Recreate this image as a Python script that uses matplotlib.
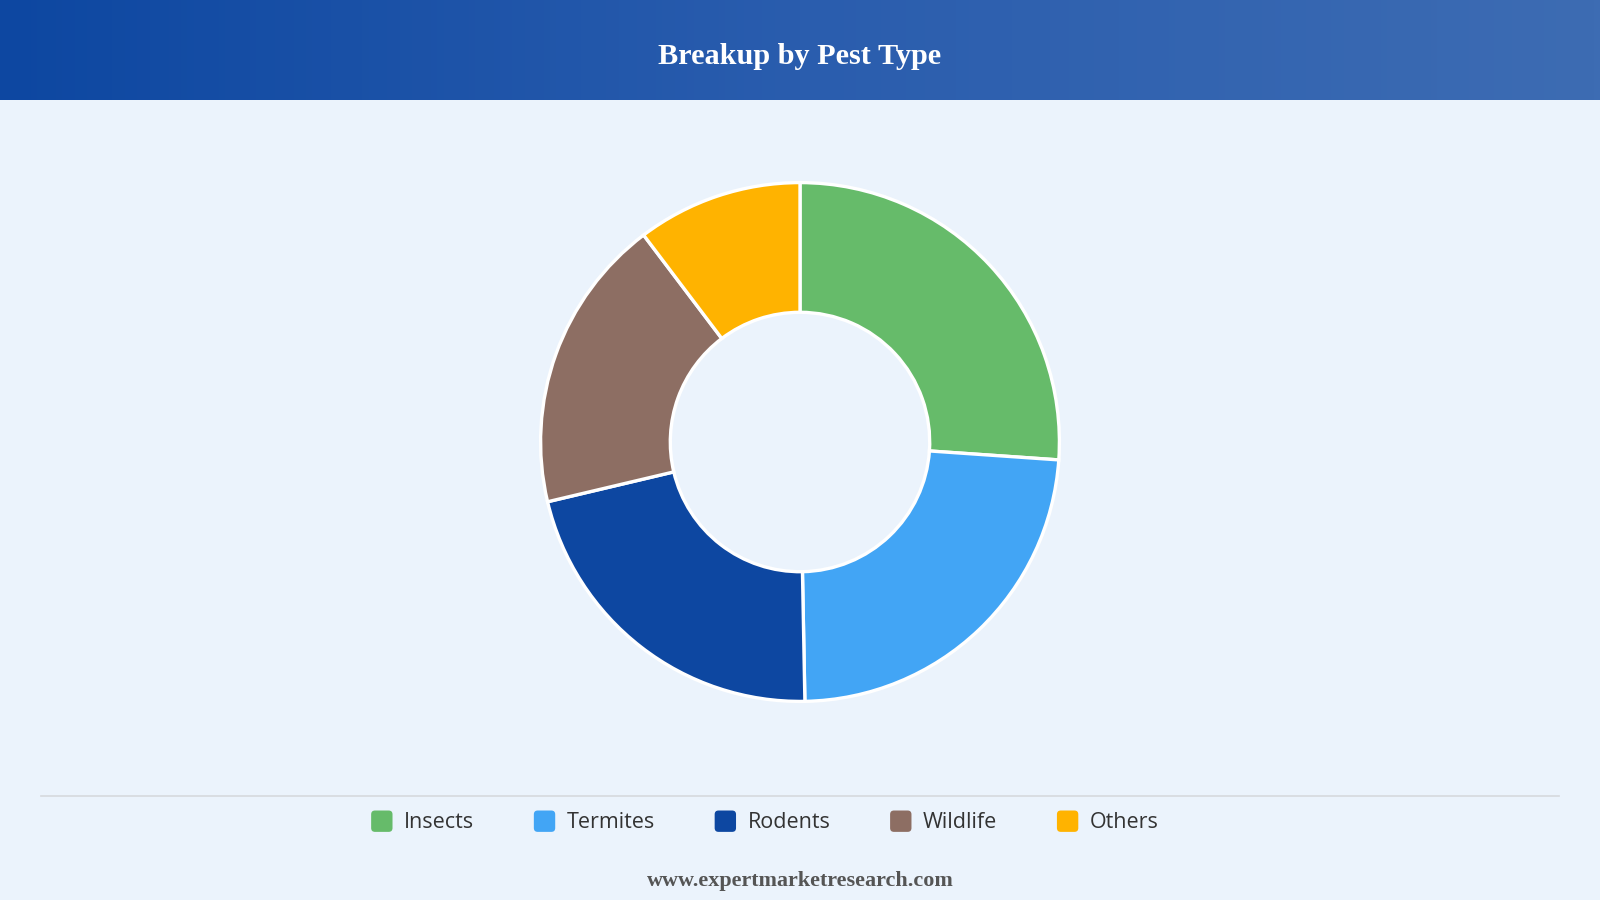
import matplotlib
matplotlib.use("Agg")
import matplotlib.pyplot as plt
import numpy as np
from matplotlib.colors import LinearSegmentedColormap
from matplotlib.patches import Patch, FancyBboxPatch
from matplotlib.legend_handler import HandlerPatch

# data
categories = ["Insects", "Termites", "Rodents", "Wildlife", "Others"]
shares = [26.1, 23.6, 21.6, 18.4, 10.3]
colors = ["#66BB6A", "#42A5F5", "#0D47A1", "#8D6E63", "#FFB300"]
title = "Breakup by Pest Type"
footer = "www.expertmarketresearch.com"

W, H = 1600, 900
fig = plt.figure(figsize=(W / 100, H / 100), dpi=100)
fig.patch.set_facecolor("#EBF3FC")

# header band with horizontal gradient
hdr = fig.add_axes([0, 1 - 100 / H, 1, 100 / H])
grad = LinearSegmentedColormap.from_list("hdr", ["#0D47A1", "#2A5DAE", "#3D6CB3"])
hdr.imshow(np.linspace(0, 1, 512)[None, :], cmap=grad, aspect="auto", extent=[0, 1, 0, 1])
hdr.set_axis_off()
hdr.text(0.5, 0.44, title, ha="center", va="center", color="white",
         fontsize=21.8, fontweight="bold", family="Liberation Serif")

# donut
cx, cy, r = 800, 442, 262
ax = fig.add_axes([(cx - r) / W, (H - cy - r) / H, 2 * r / W, 2 * r / H])
ax.pie(shares, colors=colors, startangle=90, counterclock=False, radius=1,
       wedgeprops=dict(width=0.5, edgecolor="white", linewidth=2.4))
ax.set_xlim(-1.01, 1.01)
ax.set_ylim(-1.01, 1.01)
ax.set_aspect("equal")
ax.set_axis_off()

# divider above legend
fig.add_artist(plt.Line2D([41 / W, 1559 / W], [1 - 796 / H] * 2, color="#D6D9DD", lw=1.2))


class RoundBox(HandlerPatch):
    # square legend key with rounded corners
    def create_artists(self, legend, orig, xd, yd, width, height, fontsize, trans):
        s = min(width, height)
        p = FancyBboxPatch((-xd + (width - s) / 2, -yd + (height - s) / 2), s, s,
                           boxstyle="round,pad=0,rounding_size=%g" % (s * 0.18),
                           facecolor=orig.get_facecolor(), edgecolor="none", transform=trans)
        return [p]


handles = [Patch(facecolor=c, label=l) for c, l in zip(colors, categories)]
fig.legend(handles=handles, loc="center", bbox_to_anchor=(0.4775, 1 - 822 / H), ncol=5,
           frameon=False, handlelength=1.15, handleheight=1.15, handletextpad=0.45,
           columnspacing=2.7, prop=dict(family="Open Sans", size=15.5),
           labelcolor="#333333", handler_map={Patch: RoundBox()})

fig.text(0.5, 1 - 881 / H, footer, ha="center", va="center", color="#555555",
         fontsize=15.9, fontweight="bold", family="Liberation Serif")

fig.savefig("out.png", dpi=100, facecolor=fig.get_facecolor())
